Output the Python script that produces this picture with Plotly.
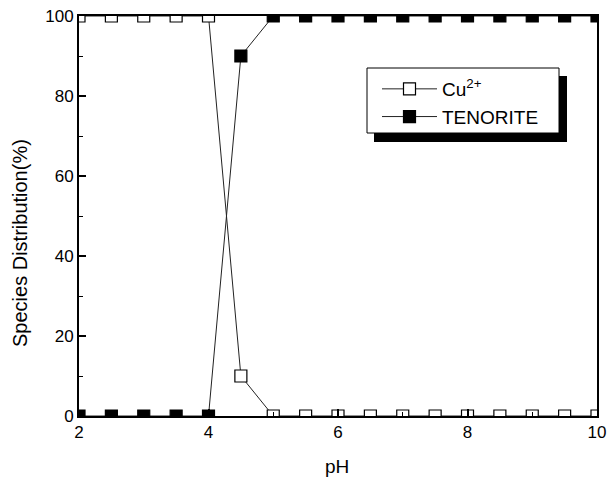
import plotly.graph_objects as go

ph = [2, 2.5, 3, 3.5, 4, 4.5, 5, 5.5, 6, 6.5, 7, 7.5, 8, 8.5, 9, 9.5, 10]
cu2 = [100, 100, 100, 100, 100, 10, 0, 0, 0, 0, 0, 0, 0, 0, 0, 0, 0]
tenorite = [0, 0, 0, 0, 0, 90, 100, 100, 100, 100, 100, 100, 100, 100, 100, 100, 100]

W, H = 608, 481
L, R, T, B = 79, 11, 16, 65
pw, ph_ = W - L - R, H - T - B

def px(x):
    return (x - L) / pw

def py(y):
    return (H - B - y) / ph_

FONT = "Liberation Sans, Arial, sans-serif"

fig = go.Figure()
fig.add_trace(go.Scatter(
    x=ph, y=cu2, mode="lines+markers", name="Cu<sup>2+</sup>",
    line=dict(color="#222", width=1),
    marker=dict(symbol="square", size=12, color="white", line=dict(color="black", width=1.2)),
))
fig.add_trace(go.Scatter(
    x=ph, y=tenorite, mode="lines+markers", name="TENORITE",
    line=dict(color="#222", width=1),
    marker=dict(symbol="square", size=12, color="black", line=dict(color="black", width=1.2)),
))

axis_common = dict(
    showgrid=False, zeroline=False, showline=True, linecolor="black", linewidth=2,
    mirror=True, ticks="inside", tickcolor="black", tickwidth=1.5, ticklen=7,
    tickfont=dict(family=FONT, size=17, color="black"), automargin=False,
)
fig.update_xaxes(range=[2, 10], tickvals=[2, 4, 6, 8, 10],
                 minor=dict(ticks="inside", dtick=1, ticklen=4, tickcolor="black", tickwidth=1),
                 **axis_common)
fig.update_yaxes(range=[0, 100], tickvals=[0, 20, 40, 60, 80, 100],
                 minor=dict(ticks="inside", dtick=10, ticklen=4, tickcolor="black", tickwidth=1),
                 **axis_common)

# legend box with shadow
fig.add_shape(type="rect", xref="paper", yref="paper",
              x0=px(374), x1=px(567), y0=py(142), y1=py(76),
              fillcolor="black", line=dict(width=0), layer="above")
fig.add_shape(type="rect", xref="paper", yref="paper",
              x0=px(367), x1=px(559), y0=py(133), y1=py(68),
              fillcolor="white", line=dict(color="black", width=1), layer="above")

fig.add_annotation(text="Species Distribution(%)", xref="paper", yref="paper",
                   x=px(20), y=py(243), xanchor="center", yanchor="middle",
                   showarrow=False, textangle=-90,
                   font=dict(family=FONT, size=20, color="black"))
fig.add_annotation(text="pH", xref="paper", yref="paper",
                   x=px(337), y=py(466), xanchor="center", yanchor="middle",
                   showarrow=False,
                   font=dict(family=FONT, size=19, color="black"))

fig.update_layout(
    width=W, height=H,
    margin=dict(l=L, r=R, t=T, b=B, autoexpand=False),
    paper_bgcolor="white", plot_bgcolor="white",
    showlegend=True,
    legend=dict(x=px(377), y=py(70), xanchor="left", yanchor="top",
                bgcolor="rgba(0,0,0,0)", borderwidth=0, itemwidth=55,
                font=dict(family=FONT, size=19, color="black"),
                tracegroupgap=0),
)

fig.write_html("out.html")
